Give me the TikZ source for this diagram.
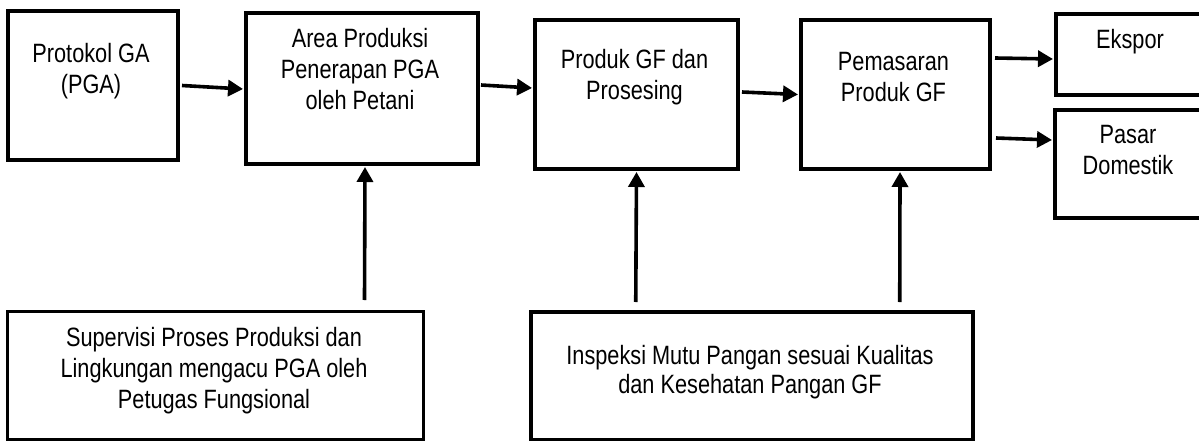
\documentclass[tikz,border=0pt]{standalone}
\usepackage{fontspec}
\setmainfont{Liberation Sans}[FakeStretch=0.82]
\usetikzlibrary{arrows.meta,calc}
\tikzset{
  box/.style={draw, line width=4pt, inner sep=0pt, anchor=north west},
  lowbox/.style={box, line width=3pt},
  txt/.style={align=center, inner sep=0pt, anchor=north, font=\fontsize{26.5}{31}\selectfont},
  arr/.style={line width=3.6pt, -{Triangle[length=15pt,width=16pt]}},
}
\begin{document}
\begin{tikzpicture}[x=1pt,y=-1pt]
\useasboundingbox (0,0) rectangle (1199,441);
% boxes
\node[box, minimum width=170pt, minimum height=149pt] (b1) at (6,9) {};
\node[box, minimum width=232pt, minimum height=151pt] (b2) at (244,11) {};
\node[box, minimum width=203pt, minimum height=149pt] (b3) at (533,18) {};
\node[box, minimum width=189pt, minimum height=149pt] (b4) at (799,18) {};
\node[box, minimum width=153pt, minimum height=81pt] (b5) at (1054,12) {};
\node[box, minimum width=152pt, minimum height=108pt] (b6) at (1053,108) {};
\node[lowbox, minimum width=416pt, minimum height=128pt] (b7) at (6,310) {};
\node[lowbox, line width=3.5pt, minimum width=442pt, minimum height=128pt] (b8) at (529,310) {};
% texts
\node[txt] (t1) at (91,43) {Protokol GA\\(PGA)};
\node[txt] (t2) at (360,28) {Area Produksi\\Penerapan PGA\\oleh Petani};
\node[txt] (t3) at (634.5,49) {Produk GF dan\\Prosesing};
\node[txt] (t4) at (893.5,52) {Pemasaran\\Produk GF};
\node[txt] (t5) at (1130,29) {Ekspor};
\node[txt] (t6) at (1128,125) {Pasar\\Domestik};
\node[txt] (t7) at (214,327) {Supervisi Proses Produksi dan\\Lingkungan mengacu PGA oleh\\Petugas Fungsional};
\node[txt, font=\fontsize{26.5}{29}\selectfont] (t8) at (750,345) {Inspeksi Mutu Pangan sesuai Kualitas\\dan Kesehatan Pangan GF};
% horizontal connectors
\draw[arr] ([xshift=2pt]b1.east) -- ([xshift=-1pt,yshift=-0.5pt]b2.west);
\draw[arr] ([xshift=1pt,yshift=3.5pt]b2.east) -- ([xshift=-1pt,yshift=6.5pt]b3.west);
\draw[arr] ([xshift=2pt,yshift=2.5pt]b3.east) -- ([xshift=-1pt]b4.west);
\draw[arr] ([xshift=3pt,yshift=36.5pt]b4.east) -- ([xshift=-1pt,yshift=-4.5pt]b5.west);
\draw[arr] ([xshift=4pt,yshift=-43.5pt]b4.east) -- ([xshift=-1pt,yshift=24pt]b6.west);
% vertical connectors
\draw[arr] ([xshift=149pt,yshift=10pt]b7.north) -- ([xshift=3pt,yshift=-1pt]b2.south);
\draw[arr] ([xshift=-116pt,yshift=8pt]b8.north) -- ([yshift=-1pt]b3.south);
\draw[arr] ([xshift=148pt,yshift=8pt]b8.north) -- ([xshift=4.5pt,yshift=-1pt]b4.south);
\end{tikzpicture}
\end{document}
